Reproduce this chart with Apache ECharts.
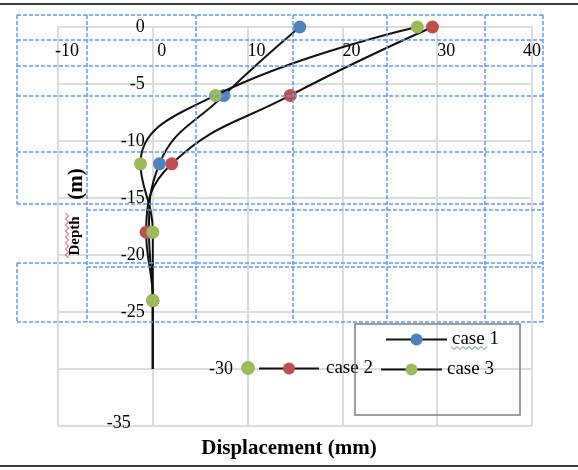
<!DOCTYPE html>
<html><head><meta charset="utf-8">
<script src="https://cdn.jsdelivr.net/npm/echarts@6/dist/echarts.min.js"></script>
<style>html,body{margin:0;padding:0;background:#fff}#c{width:578px;height:470px}</style>
</head><body><div id="c"></div>
<script>
// ---- data ----
const depths = [0, -6, -12, -18, -24, -30];
const case1 = [15.5, 7.5, 0.7, -0.4, 0, 0];
const case2 = [29.5, 14.5, 2.0, -0.7, 0, 0];
const case3 = [27.9, 6.6, -1.3, 0, 0, 0];
const seriesNames = ['case 1', 'case 2', 'case 3'];
const xTickLabels = [-10, 0, 10, 20, 30, 40];
const yTickLabels = [0, -5, -10, -15, -20, -25, -30, -35];
const xTitle = 'Displacement (mm)';
const yTitleA = 'Depth';
const yTitleB = '(m)';

// ---- style ----
const colors = ['#4f81bd', '#c0504d', '#9bbb59'];
const serif = '"Liberation Serif", "Times New Roman", serif';
const gridGray = '#dcdcdc';
const dashBlue = '#5f9bef';
const W = 578, H = 470;
const gridBox = { left: 58, right: 46, top: 27, bottom: 44 };
const xMin = xTickLabels[0], xMax = xTickLabels[xTickLabels.length - 1];
const gridW = W - gridBox.left - gridBox.right;
// y axis crosses the x axis at displacement 0
const yAxisOffset = -gridW * (0 - xMin) / (xMax - xMin);

function buildData(xs) {
  return xs.map((x, i) => {
    const item = { value: [x, depths[i]] };
    if (i === depths.length - 1) item.symbol = 'none';
    return item;
  });
}

const allSeries = [case1, case2, case3].map((xs, k) => ({
  type: 'line',
  name: seriesNames[k],
  data: buildData(xs),
  smooth: 0.45,
  symbol: 'circle',
  symbolSize: 13,
  showAllSymbol: true,
  lineStyle: { color: '#111', width: 2 },
  itemStyle: { color: colors[k] },
  emphasis: { disabled: true },
  z: 3 + k
}));

// decorative overlay (dashed table borders) segments [x1,y1,x2,y2]
const overlay = [
  [17,15,543,15],[17,40,543,40],[17,66,543,66],[17,96,543,96],[17,152,543,152],
  [17,204,543,204],[87,210,543,210],[17,263,543,263],[87,267,543,267],[17,322,543,322],
  [17,15,17,204],[17,263,17,322],[87,15,87,322],[196,15,196,322],[293,15,293,322],
  [387,15,387,322],[485,15,485,322],[543,15,543,322]
];

function zigzag(x0, x1, y, amp, step, vertical) {
  const pts = [];
  let up = true;
  for (let t = x0; t <= x1; t += step) {
    pts.push(vertical ? [y + (up ? -amp : amp), t] : [t, y + (up ? -amp : amp)]);
    up = !up;
  }
  return pts;
}

const legendBase = {
  orient: 'horizontal', padding: 0, itemWidth: 61, itemHeight: 15,
  textStyle: { fontFamily: serif, fontSize: 19, color: '#000' },
  selectedMode: false
};

const option = {
  animation: false,
  backgroundColor: '#fff',
  title: {
    text: xTitle, left: 'center', top: 438, padding: 0,
    textStyle: { fontFamily: serif, fontSize: 21, fontWeight: 'bold', color: '#000' }
  },
  legend: [
    Object.assign({}, legendBase, { data: [seriesNames[0]], left: 385, top: 330 }),
    Object.assign({}, legendBase, { data: [seriesNames[1]], left: 258, top: 359, itemWidth: 60,
      textStyle: Object.assign({}, legendBase.textStyle, { padding: [0, 0, 0, 2] }) }),
    Object.assign({}, legendBase, { data: [seriesNames[2]], left: 380, top: 360 })
  ],
  grid: Object.assign({ containLabel: false }, gridBox),
  xAxis: {
    type: 'value', min: xMin, max: xMax, interval: 10,
    position: 'top',
    axisLine: { show: true, onZero: false, lineStyle: { color: gridGray, width: 2 } },
    axisTick: { show: false },
    splitLine: { show: true, lineStyle: { color: gridGray, width: 2 } },
    axisLabel: {
      inside: true, margin: 15, showMinLabel: true, showMaxLabel: true,
      fontFamily: serif, fontSize: 18, color: '#000',
      formatter: v => (v === 40 ? String(v) : '{s|' + v + '}'),
      rich: { s: { fontFamily: serif, fontSize: 18, color: '#000', padding: [0, 0, 0, 18] } }
    }
  },
  yAxis: {
    type: 'value', min: yTickLabels[yTickLabels.length - 1], max: yTickLabels[0], interval: 5,
    position: 'left', offset: yAxisOffset,
    axisLine: { show: true, onZero: false, lineStyle: { color: gridGray, width: 2 } },
    axisTick: { show: false },
    splitLine: { show: true, lineStyle: { color: gridGray, width: 2 } },
    axisLabel: {
      margin: 8, fontFamily: serif, fontSize: 18, color: '#000', showMinLabel: true, showMaxLabel: true,
      formatter: v => (v === -30 ? '' : (v === -35 ? '{f|' + v + '}' : String(v))),
      rich: { f: { fontFamily: serif, fontSize: 18, color: '#000', padding: [0, 14, 6, 0] } }
    }
  },
  series: allSeries,
  graphic: [
    { type: 'rect', silent: true, z: 200, shape: { x: 0, y: 3, width: W, height: 2 }, style: { fill: '#3c3c3c' } },
    { type: 'rect', silent: true, z: 200, shape: { x: 0, y: 465, width: W, height: 2 }, style: { fill: '#3c3c3c' } },
    { type: 'rect', silent: true, z: 150, shape: { x: 355, y: 324, width: 165, height: 91 },
      style: { fill: 'transparent', stroke: '#7f7f7f', lineWidth: 1.5 } },
    { type: 'text', silent: true, z: 150, x: 233, y: 369,
      style: { text: '-30', font: '18px ' + serif, fill: '#000', align: 'right', verticalAlign: 'middle' } },
    { type: 'circle', silent: true, z: 150, shape: { cx: 248, cy: 368, r: 7 }, style: { fill: colors[2] } },
    { type: 'text', silent: true, z: 150, x: 77, y: 184, rotation: Math.PI / 2,
      style: { text: yTitleB, font: 'bold 21px ' + serif, fill: '#000', align: 'center', verticalAlign: 'middle' } },
    { type: 'text', silent: true, z: 150, x: 75, y: 236, rotation: Math.PI / 2,
      style: { text: yTitleA, font: 'bold 15px ' + serif, fill: '#000', align: 'center', verticalAlign: 'middle' } },
    { type: 'polyline', silent: true, z: 151, shape: { points: zigzag(213, 258, 67, 1.5, 3, true) },
      style: { stroke: '#e03030', lineWidth: 1, fill: null } },
    { type: 'polyline', silent: true, z: 151, shape: { points: zigzag(451, 489, 348, 1.5, 3, false) },
      style: { stroke: '#3ca03c', lineWidth: 1, fill: null } }
  ].concat(overlay.map(s => ({
    type: 'line', silent: true, z: 100,
    shape: { x1: s[0], y1: s[1], x2: s[2], y2: s[3] },
    style: { stroke: dashBlue, lineWidth: 1.5, lineDash: [4, 2] }
  })))
};

const chart = echarts.init(document.getElementById('c'), null, { renderer: 'canvas' });
chart.setOption(option);
</script>
</body></html>
